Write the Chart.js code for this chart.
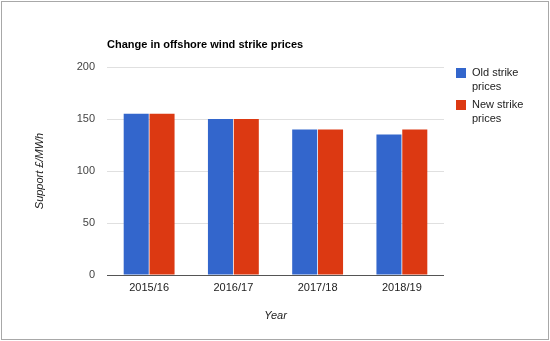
<!DOCTYPE html>
<html>
<head>
<meta charset="utf-8">
<script src="https://cdn.jsdelivr.net/npm/chart.js@4"></script>
<style>
  html, body { margin: 0; padding: 0; background: #fff; }
  #wrap { position: relative; width: 550px; height: 341px; }
  #c { position: absolute; left: 0; top: 0; }
  #frame { position: absolute; left: 1px; top: 1px; width: 548px; height: 339px; box-sizing: border-box; border: 1px solid #a8a8a8; pointer-events: none; }
</style>
</head>
<body>
<div id="wrap">
  <canvas id="c" width="550" height="341"></canvas>
  <div id="frame"></div>
</div>
<script>
const categories = ['2015/16', '2016/17', '2017/18', '2018/19'];
const oldPrices = [155, 150, 140, 135];
const newPrices = [155, 150, 140, 140];
const seriesNames = ['Old strike prices', 'New strike prices'];
const seriesColors = ['#3366cc', '#dc3912'];
const yTicks = [0, 50, 100, 150, 200];
const chartTitle = 'Change in offshore wind strike prices';
const xTitle = 'Year';
const yTitle = 'Support £/MWh';

const FONT = '"Liberation Sans", Arial, sans-serif';

function wrapText(ctx, text, maxW) {
  const words = text.split(' ');
  const lines = [];
  let cur = '';
  for (const w of words) {
    const test = cur ? cur + ' ' + w : w;
    if (ctx.measureText(test).width > maxW && cur) { lines.push(cur); cur = w; }
    else cur = test;
  }
  if (cur) lines.push(cur);
  return lines;
}

const extras = {
  id: 'extras',
  afterDraw(chart) {
    const ctx = chart.ctx;
    const area = chart.chartArea;
    ctx.save();
    // Title
    ctx.fillStyle = '#000';
    ctx.font = 'bold 11px ' + FONT;
    ctx.textAlign = 'left';
    ctx.textBaseline = 'alphabetic';
    ctx.fillText(chartTitle, area.left, 48);
    // Legend
    ctx.font = '11px ' + FONT;
    ctx.fillStyle = '#222';
    let y = 68;
    chart.data.datasets.forEach((ds, i) => {
      ctx.fillStyle = ds.backgroundColor;
      ctx.fillRect(456, y, 10, 10);
      ctx.fillStyle = '#222';
      const lines = wrapText(ctx, ds.label, 70);
      lines.forEach((ln, j) => {
        ctx.fillText(ln, 472, y + 8.3 + j * 13.7);
      });
      y += 32;
    });
    ctx.restore();
  }
};

new Chart(document.getElementById('c'), {
  type: 'bar',
  data: {
    labels: categories,
    datasets: [
      { label: seriesNames[0], data: oldPrices, backgroundColor: seriesColors[0], borderWidth: 0 },
      { label: seriesNames[1], data: newPrices, backgroundColor: seriesColors[1], borderWidth: 0 }
    ]
  },
  options: {
    responsive: false,
    animation: false,
    layout: { padding: { top: 67, right: 106, bottom: 0, left: 0 } },
    categoryPercentage: 0.613,
    barPercentage: 0.97,
    plugins: {
      legend: { display: false },
      title: { display: false },
      tooltip: { enabled: false }
    },
    scales: {
      x: {
        grid: { display: false, drawTicks: false },
        border: { display: false },
        ticks: { color: '#222', font: { family: FONT, size: 11 }, padding: 6 },
        title: { display: true, text: xTitle, color: '#222', font: { family: FONT, size: 11, style: 'italic' }, padding: { top: 0, bottom: 18.7 } },
        afterFit(scale) { scale.height = 66; }
      },
      y: {
        min: 0, max: 200,
        afterBuildTicks(scale) { scale.ticks = yTicks.map(v => ({ value: v })); },
        grid: {
          drawTicks: false,
          color: c => (c.tick && c.tick.value === 0) ? '#555' : '#e0e0e0',
          lineWidth: 1
        },
        border: { display: false },
        ticks: { color: '#444', font: { family: FONT, size: 11 }, padding: 12 },
        title: { display: true, text: yTitle, color: '#222', font: { family: FONT, size: 11, style: 'italic' }, padding: { top: 33.4, bottom: 0 } },
        afterFit(scale) { scale.width = 107; }
      }
    }
  },
  plugins: [extras]
});
</script>
</body>
</html>
